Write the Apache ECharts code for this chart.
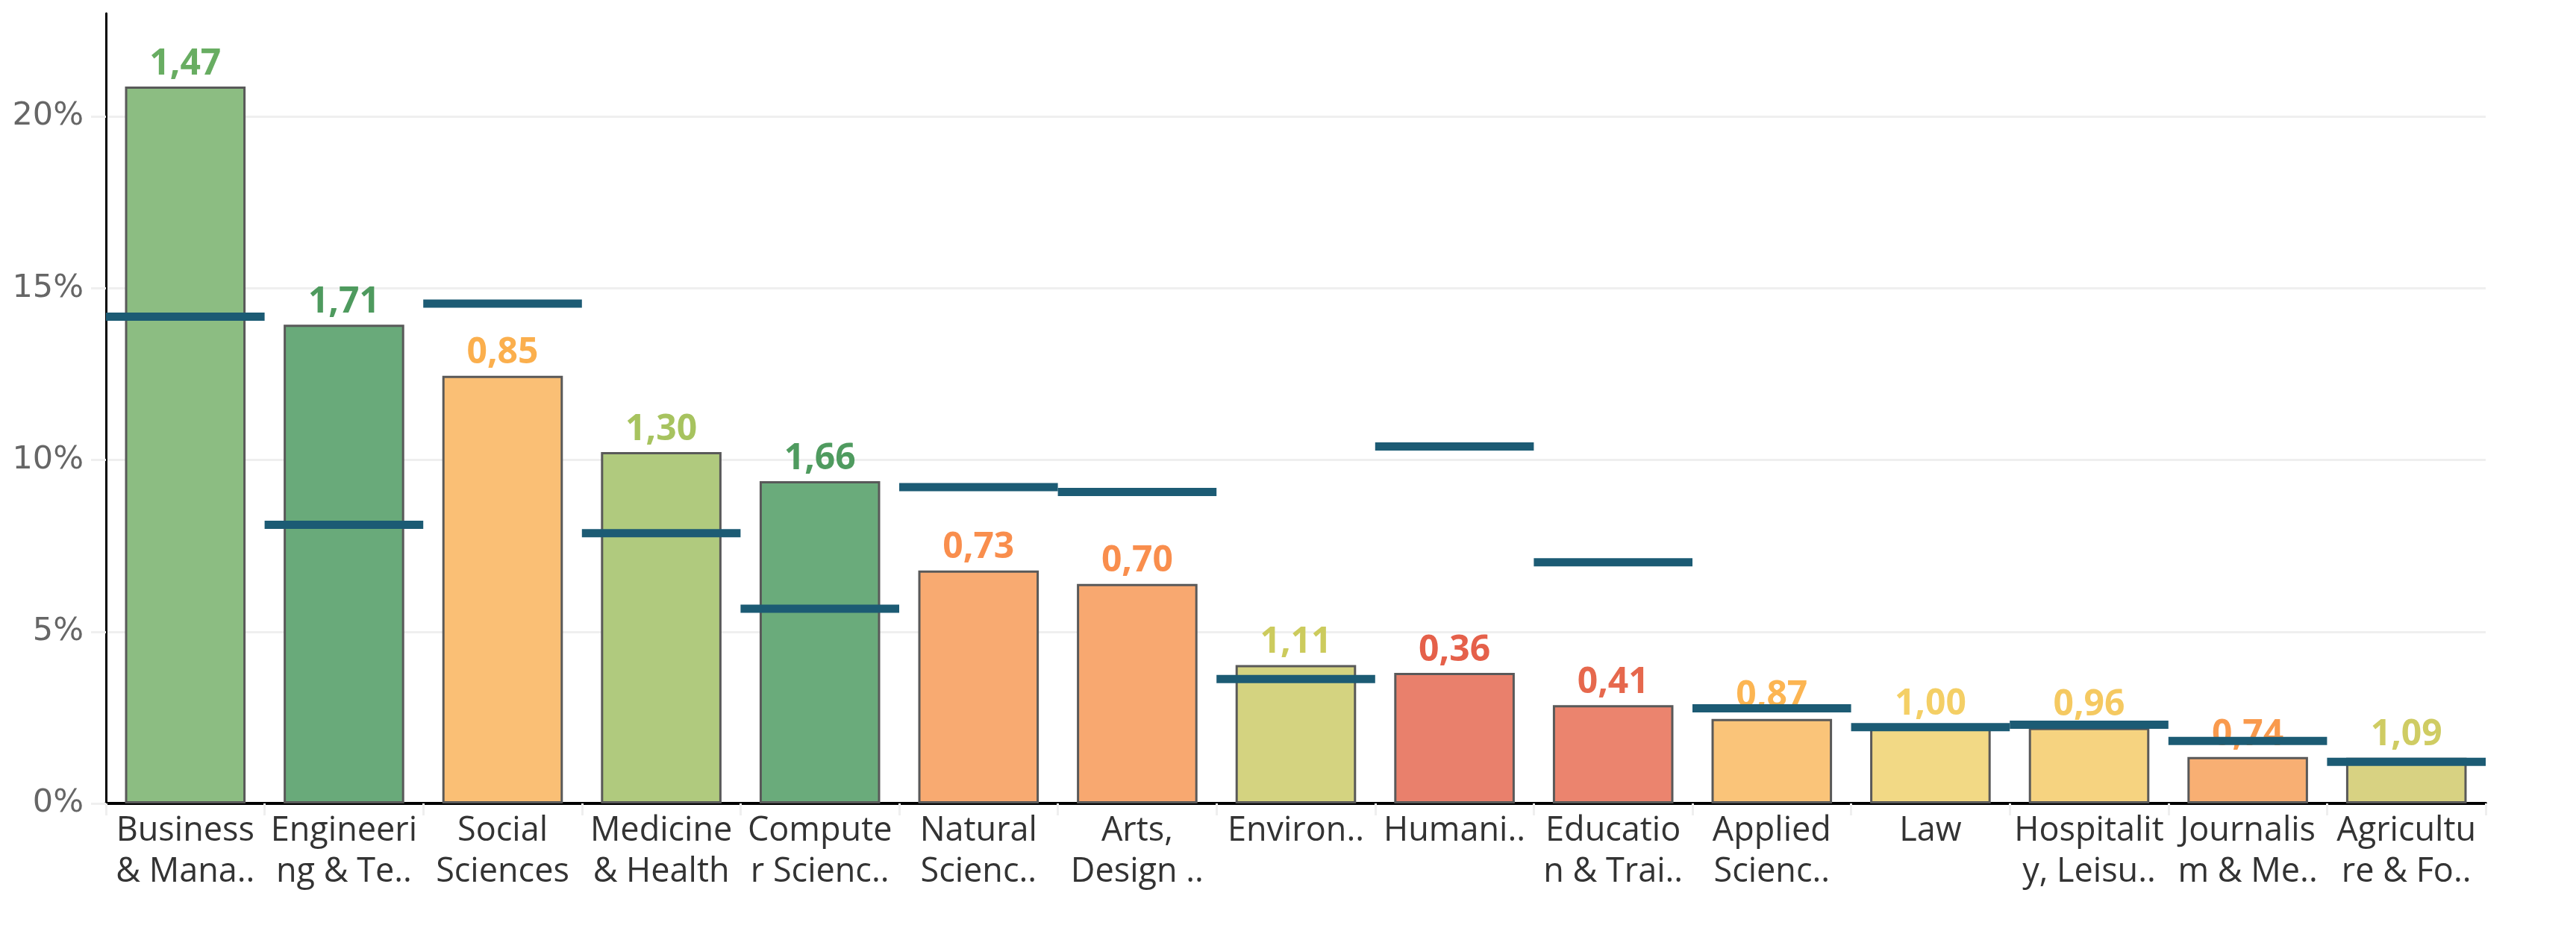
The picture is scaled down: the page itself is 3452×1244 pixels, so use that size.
<!DOCTYPE html>
<html>
<head>
<meta charset="utf-8">
<title>Share by field</title>
<script src="https://cdn.jsdelivr.net/npm/echarts@6/dist/echarts.min.js"></script>
<style>
  html, body { margin: 0; padding: 0; background: #fff; }
  #chart { width: 3452px; height: 1244px; }
</style>
</head>
<body>
<div id="chart"></div>
<script>
// categories as shown on the axis (already wrapped / truncated)
var categories = [
  "Business\n& Mana..", "Engineeri\nng & Te..", "Social\nSciences", "Medicine\n& Health",
  "Compute\nr Scienc..", "Natural\nScienc..", "Arts,\nDesign ..", "Environ..", "Humani..",
  "Educatio\nn & Trai..", "Applied\nScienc..", "Law", "Hospitalit\ny, Leisu..",
  "Journalis\nm & Me..", "Agricultu\nre & Fo.."
];
// bar values (%)
var shareValues = [20.87, 13.94, 12.45, 10.23, 9.38, 6.78, 6.39, 4.03, 3.80, 2.86, 2.46, 2.22, 2.20, 1.35, 1.33];
// reference markers (%)
var benchmarkValues = [14.17, 8.11, 14.55, 7.87, 5.67, 9.21, 9.07, 3.62, 10.39, 7.02, 2.77, 2.22, 2.29, 1.82, 1.21];
// ratio shown above each bar
var ratioLabels = [1.47, 1.71, 0.85, 1.30, 1.66, 0.73, 0.70, 1.11, 0.36, 0.41, 0.87, 1.00, 0.96, 0.74, 1.09];
var yTicks = [0, 5, 10, 15, 20];

// colours per bar (follow the ratio colour scale)
var labelColors = ["#68ad62", "#4e9a5e", "#fbaf4d", "#a7c35f", "#4f9b5f", "#f98e4d", "#f98e4d", "#cccb5d",
  "#e5604a", "#e6684d", "#fcb552", "#f4cf65", "#f5c961", "#f99a4d", "#cfcc63"];
var barColors = ["#8cbd82", "#69aa7a", "#fabf75", "#b0ca7e", "#6aab7b", "#f8aa71", "#f8a870", "#d4d380",
  "#e9806c", "#eb846e", "#fac479", "#f2d985", "#f6d380", "#f8af73", "#d8d282"];

var font = "'Open Sans', 'Noto Sans', sans-serif";
var wideFont = "'DejaVu Sans', 'Open Sans', sans-serif";
var chart = echarts.init(document.getElementById("chart"));

var option = {
  animation: false,
  grid: { left: 142, right: 121, top: 18, bottom: 167, containLabel: false },
  xAxis: {
    type: "category",
    data: categories,
    axisLine: { show: true, lineStyle: { color: "#000", width: 4 } },
    axisTick: { show: true, length: 16, lineStyle: { color: "#efefef", width: 3 } },
    axisLabel: {
      interval: 0,
      margin: 10,
      color: "#333",
      fontFamily: font,
      fontSize: 45,
      lineHeight: 55
    }
  },
  yAxis: {
    type: "value",
    min: yTicks[0],
    max: 23,
    interval: yTicks[1] - yTicks[0],
    axisLine: { show: true, lineStyle: { color: "#000", width: 3 } },
    axisTick: { show: true, length: 20, lineStyle: { color: "#efefef", width: 3 } },
    axisLabel: {
      margin: 30,
      color: "#666",
      fontFamily: wideFont,
      fontSize: 43,
      showMaxLabel: false,
      formatter: function (v) { return yTicks.indexOf(v) >= 0 ? v + "%" : ""; }
    },
    splitLine: {
      show: true,
      lineStyle: { color: ["#efefef", "#efefef", "#efefef", "#efefef", "#efefef", "rgba(0,0,0,0)"], width: 3 }
    }
  },
  series: [
    {
      name: "Share",
      type: "bar",
      z: 2,
      barCategoryGap: "24%",
      data: shareValues.map(function (v, i) {
        return {
          value: v,
          itemStyle: { color: barColors[i] },
          label: { color: labelColors[i] }
        };
      }),
      itemStyle: { borderColor: "#595959", borderWidth: 3 },
      label: {
        show: true,
        position: "top",
        distance: 6,
        fontFamily: font,
        fontSize: 48,
        fontWeight: "bold",
        formatter: function (p) { return ratioLabels[p.dataIndex].toFixed(2).replace(".", ","); }
      }
    },
    {
      name: "Benchmark",
      type: "custom",
      z: 5,
      data: benchmarkValues.map(function (v, i) { return [i, v]; }),
      renderItem: function (params, api) {
        var p = api.coord([api.value(0), api.value(1)]);
        var w = api.size([1, 0])[0];
        return {
          type: "rect",
          shape: { x: p[0] - w / 2, y: p[1] - 5.5, width: w, height: 11 },
          style: { fill: "#1c5b74" }
        };
      }
    }
  ]
};

chart.setOption(option);
window.addEventListener("resize", function () {
  chart.resize();
});
</script>
</body>
</html>
